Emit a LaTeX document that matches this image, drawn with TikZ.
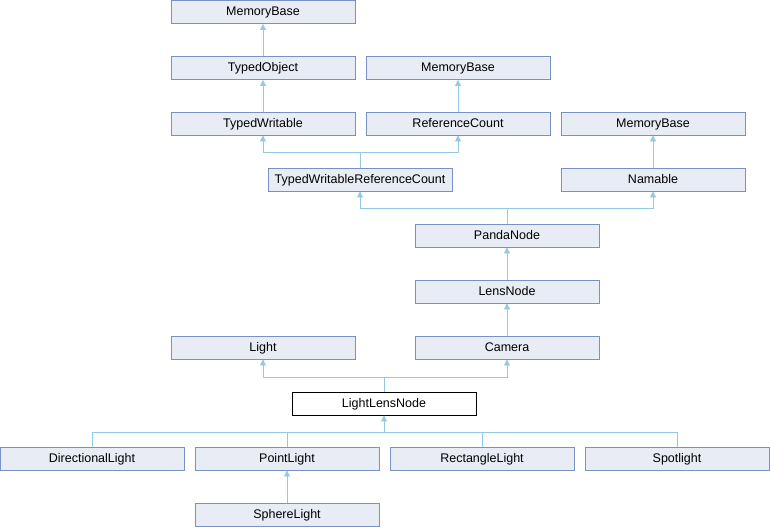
\documentclass[tikz,border=0pt]{standalone}
\usepackage{fontspec}
\setmainfont{Liberation Sans}
\usetikzlibrary{arrows.meta}
\definecolor{boxfill}{HTML}{E8ECF4}
\definecolor{boxline}{HTML}{7A91C6}
\definecolor{linkline}{HTML}{94C8E6}
\begin{document}
\begin{tikzpicture}[x=1pt,y=-1pt]
        \useasboundingbox (0,0) rectangle (770,528);
        \begin{scope}[every node/.style={rectangle,draw=boxline,fill=boxfill,line width=0.9pt,
                minimum width=184pt,minimum height=23pt,inner sep=0pt,
                text height=10pt,text depth=2.4pt,
                font=\fontsize{12.5}{14}\selectfont}]
            \node (mb1) at (263,12) {MemoryBase};
            \node (to) at (263,68) {TypedObject};
            \node (mb2) at (458,68) {MemoryBase};
            \node (tw) at (263,123.5) {TypedWritable};
            \node (rc) at (458,123.5) {ReferenceCount};
            \node (mb3) at (653,123.5) {MemoryBase};
            \node (twrc) at (360,179.5) {TypedWritableReferenceCount};
            \node (nam) at (653,179.5) {Namable};
            \node (pn) at (507,235.5) {PandaNode};
            \node (ln) at (507,291.5) {LensNode};
            \node (light) at (263,347.5) {Light};
            \node (cam) at (507,347.5) {Camera};
            \node (lln) [draw=black,fill=white] at (384,403.5) {LightLensNode};
            \node (dl) at (92,458.5) {DirectionalLight};
            \node (pl) at (287,458.5) {PointLight};
            \node (rl) at (482,458.5) {RectangleLight};
            \node (sl) at (677,458.5) {Spotlight};
            \node (sph) at (287,514.5) {SphereLight};
        \end{scope}
        % junctions
        \coordinate (j1) at (360,152);
        \coordinate (j2) at (507,208);
        \coordinate (j3) at (384,377);
        \coordinate (j4) at (384,432);
        \begin{scope}[linkline,line width=0.9pt,>={Triangle[length=6pt,width=6pt]}]
            \path[draw]
                (to) edge [->] (mb1)
                (tw) edge [->] (to)
                (rc) edge [->] (mb2)
                (nam) edge [->] (mb3)
                (ln) edge [->] (pn)
                (cam) edge [->] (ln)
                (sph) edge [->] (pl);
            \draw (twrc.north) -- (j1);
            \draw[->] (j1) -| (tw.south);
            \draw[->] (j1) -| (rc.south);
            \draw (pn.north) -- (j2);
            \draw[->] (j2) -| (twrc.south);
            \draw[->] (j2) -| (nam.south);
            \draw (lln.north) -- (j3);
            \draw[->] (j3) -| (light.south);
            \draw[->] (j3) -| (cam.south);
            \draw[->] (j4) -- (lln.south);
            \draw (j4) -| (dl.north);
            \draw (j4) -| (pl.north);
            \draw (j4) -| (rl.north);
            \draw (j4) -| (sl.north);
        \end{scope}
    \end{tikzpicture}
\end{document}
